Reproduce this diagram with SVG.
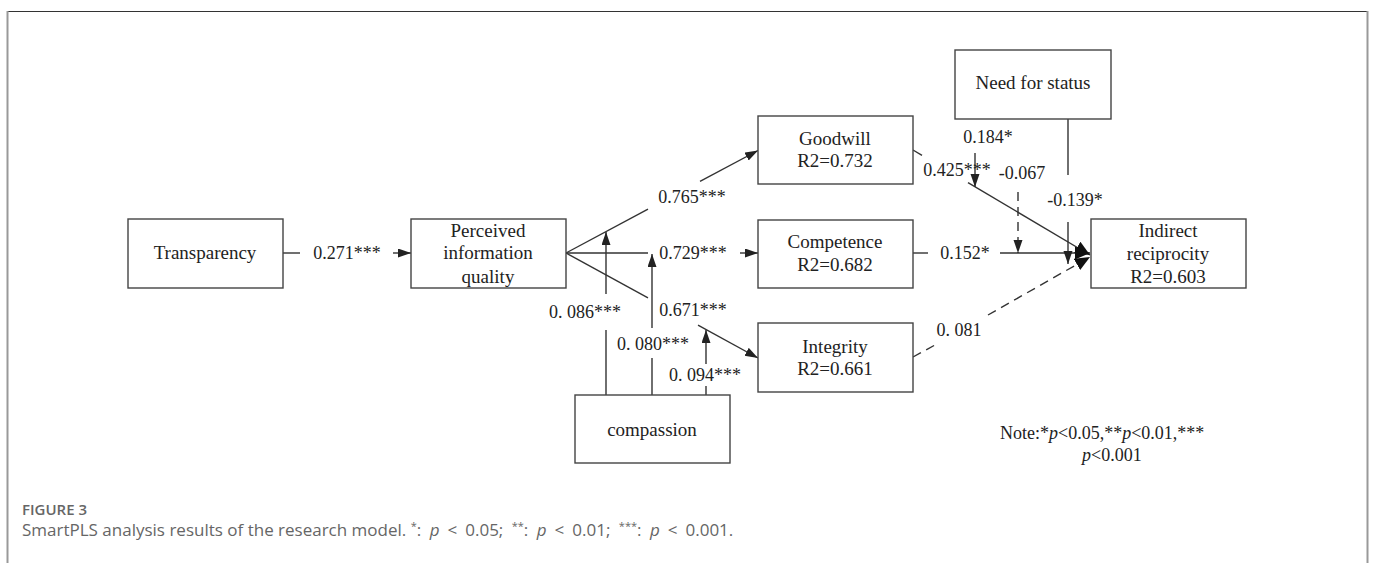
<svg xmlns="http://www.w3.org/2000/svg" width="1375" height="563" viewBox="0 0 1375 563">
<style>
.box{fill:#fff;stroke:#444;stroke-width:1.4}
.t{font-family:"Liberation Serif",serif;font-size:19px;fill:#222;text-anchor:middle}
.l{font-family:"Liberation Serif",serif;font-size:18px;fill:#222;text-anchor:middle}
.c{stroke:#333;stroke-width:1.4;fill:none}
.d{stroke:#333;stroke-width:1.4;fill:none;stroke-dasharray:9 6}
.cap{font-family:"Open Sans",sans-serif;fill:#666}
</style>
<defs>
<marker id="ah" markerUnits="userSpaceOnUse" markerWidth="14" markerHeight="10" refX="13" refY="4.5" orient="auto">
<path d="M0,0 L13,4.5 L0,9 z" fill="#222"/>
</marker>
<marker id="ahb" markerUnits="userSpaceOnUse" markerWidth="16" markerHeight="14" refX="15" refY="6.5" orient="auto">
<path d="M0,0 L15,6.5 L0,13 z" fill="#111"/>
</marker>
</defs>
<rect width="1375" height="563" fill="#fff"/>
<g id="frame">
<line x1="7" y1="11.5" x2="1368" y2="11.5" stroke="#333" stroke-width="1.2"/>
<line x1="7.5" y1="11" x2="7.5" y2="563" stroke="#999" stroke-width="2"/>
<line x1="1367.5" y1="11" x2="1367.5" y2="563" stroke="#999" stroke-width="2"/>
</g>
<g id="connectors">
<line class="c" x1="283" y1="253" x2="300" y2="253"/>
<line class="c" x1="393" y1="253" x2="411" y2="253" marker-end="url(#ah)"/>
<line class="c" x1="566" y1="253" x2="648" y2="209.2"/>
<line class="c" x1="700" y1="181.4" x2="758" y2="150.5" marker-end="url(#ah)"/>
<line class="c" x1="566" y1="253" x2="648" y2="253"/>
<line class="c" x1="740" y1="253" x2="758" y2="253" marker-end="url(#ah)"/>
<line class="c" x1="566" y1="253" x2="648" y2="297.8"/>
<line class="c" x1="698" y1="325.2" x2="758" y2="358" marker-end="url(#ah)"/>
<line class="c" x1="606" y1="395" x2="606" y2="330"/>
<line class="c" x1="606" y1="294" x2="606" y2="232" marker-end="url(#ah)"/>
<line class="c" x1="652" y1="395" x2="652" y2="358"/>
<line class="c" x1="652" y1="328" x2="652" y2="254" marker-end="url(#ah)"/>
<line class="c" x1="706" y1="395" x2="706" y2="386"/>
<line class="c" x1="706" y1="364" x2="706" y2="330" marker-end="url(#ah)"/>
<line class="c" x1="913" y1="150" x2="922" y2="155.3"/>
<line class="c" x1="968" y1="182.6" x2="1090" y2="255" marker-end="url(#ahb)"/>
<line class="c" x1="913" y1="253" x2="928" y2="253"/>
<line class="c" x1="1000" y1="253" x2="1090" y2="253" marker-end="url(#ahb)"/>
<line class="d" x1="913" y1="357" x2="935" y2="345"/>
<line class="d" x1="988" y1="315" x2="1090" y2="257" marker-end="url(#ahb)"/>
<line class="c" x1="975" y1="153" x2="975" y2="187" marker-end="url(#ah)"/>
<line class="d" x1="1018" y1="192" x2="1018" y2="253" marker-end="url(#ah)"/>
<line class="c" x1="1068" y1="119" x2="1068" y2="175"/>
<line class="c" x1="1068" y1="222" x2="1068" y2="264" marker-end="url(#ah)"/>
<g id="labels">
<text class="l" x="347" y="259">0.271***</text>
<text class="l" x="692" y="203">0.765***</text>
<text class="l" x="693" y="259">0.729***</text>
<text class="l" x="693" y="316">0.671***</text>
<text class="l" x="585" y="318">0. 086***</text>
<text class="l" x="653" y="350">0. 080***</text>
<text class="l" x="705" y="381">0. 094***</text>
<text class="l" x="957" y="176">0.425***</text>
<text class="l" x="965" y="259">0.152*</text>
<text class="l" x="959" y="336">0. 081</text>
<text class="l" x="988" y="143">0.184*</text>
<text class="l" x="1022" y="179">-0.067</text>
<text class="l" x="1075" y="206">-0.139*</text>
</g>
</g>
<g id="transparency"><rect class="box" x="128" y="219" width="155" height="69"/><text class="t" x="205" y="259">Transparency</text></g>
<g id="piq"><rect class="box" x="411" y="219" width="155" height="69"/><text class="t" x="488" y="237">Perceived</text><text class="t" x="488" y="259">information</text><text class="t" x="488" y="283">quality</text></g>
<g id="goodwill"><rect class="box" x="758" y="116" width="155" height="68"/><text class="t" x="835" y="145">Goodwill</text><text class="t" x="835" y="167">R2=0.732</text></g>
<g id="competence"><rect class="box" x="758" y="220" width="155" height="68"/><text class="t" x="835" y="248">Competence</text><text class="t" x="835" y="271">R2=0.682</text></g>
<g id="integrity"><rect class="box" x="758" y="323" width="155" height="69"/><text class="t" x="835" y="353">Integrity</text><text class="t" x="835" y="375">R2=0.661</text></g>
<g id="compassion"><rect class="box" x="575" y="395" width="155" height="68"/><text class="t" x="652" y="436">compassion</text></g>
<g id="status"><rect class="box" x="955" y="50" width="156" height="69"/><text class="t" x="1033" y="89">Need for status</text></g>
<g id="reciprocity"><rect class="box" x="1091" y="219" width="155" height="69"/><text class="t" x="1168" y="237">Indirect</text><text class="t" x="1168" y="260">reciprocity</text><text class="t" x="1168" y="283">R2=0.603</text></g>
<g id="note">
<text class="l" x="1000" y="439" style="text-anchor:start">Note:*<tspan font-style="italic">p</tspan>&lt;0.05,**<tspan font-style="italic">p</tspan>&lt;0.01,***</text>
<text class="l" x="1082" y="461" style="text-anchor:start"><tspan font-style="italic">p</tspan>&lt;0.001</text>
</g>
<g id="caption">
<text class="cap" x="22" y="515" font-size="15" font-weight="600" fill="#666">FIGURE 3</text>
<text class="cap" x="22" y="536" font-size="17">SmartPLS analysis results of the research model. <tspan font-size="11" dy="-6">*</tspan><tspan dy="6">: </tspan><tspan font-style="italic" dx="4">p</tspan><tspan dx="8">&lt;</tspan><tspan dx="8">0.05; </tspan><tspan font-size="11" dy="-6" dx="4">**</tspan><tspan dy="6">: </tspan><tspan font-style="italic" dx="4">p</tspan><tspan dx="8">&lt;</tspan><tspan dx="8">0.01; </tspan><tspan font-size="11" dy="-6" dx="4">***</tspan><tspan dy="6">: </tspan><tspan font-style="italic" dx="4">p</tspan><tspan dx="8">&lt;</tspan><tspan dx="8">0.001.</tspan></text>
</g>
</svg>
